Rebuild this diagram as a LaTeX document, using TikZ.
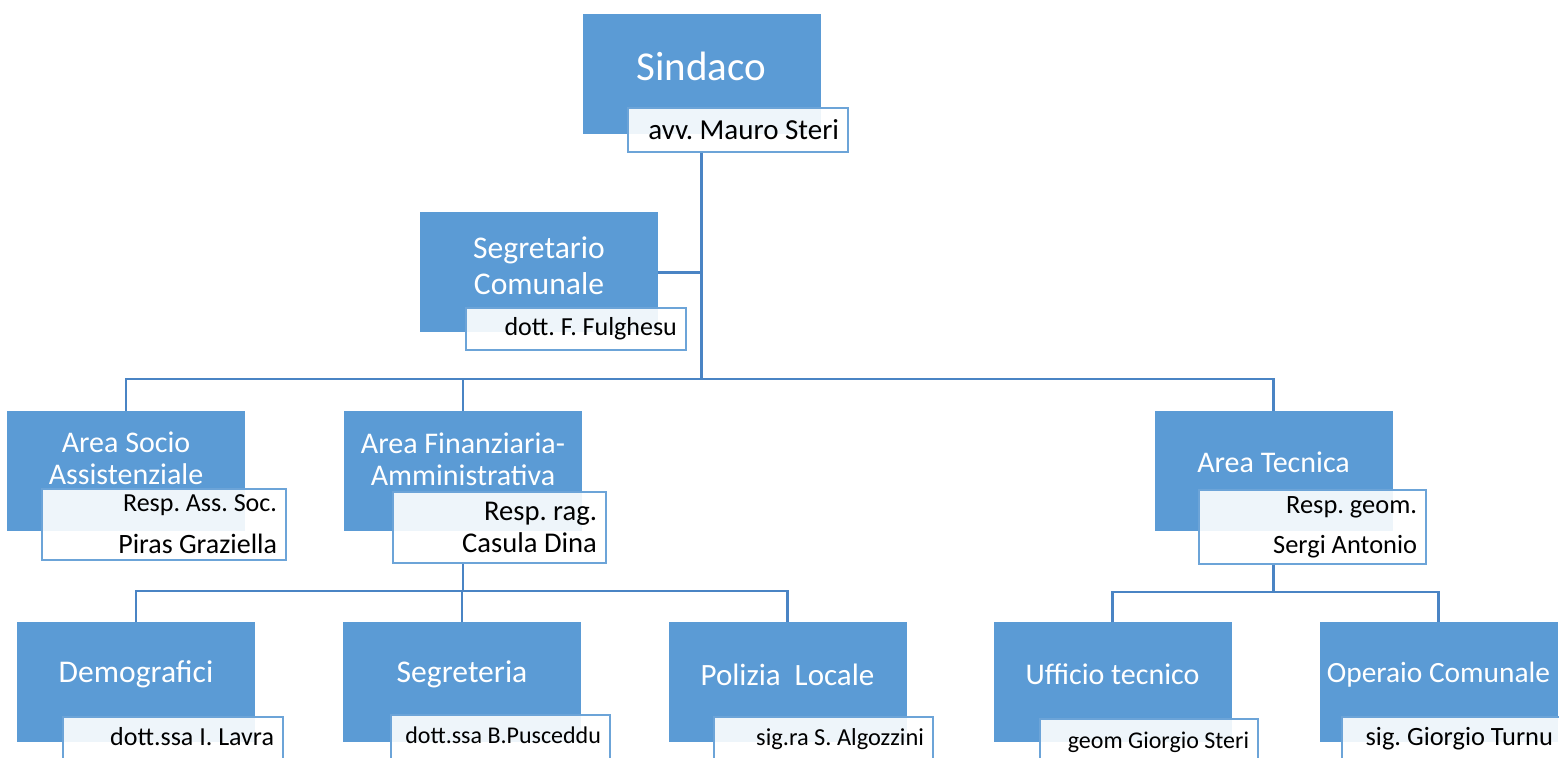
\documentclass[tikz,border=0pt]{standalone}
\usepackage{fontspec}
\setmainfont{Carlito}
\frenchspacing
\definecolor{areablue}{HTML}{5B9BD5}
\definecolor{lineblue}{HTML}{4A84C4}
\definecolor{edgeblue}{HTML}{6CA4D8}

\begin{document}
\begin{tikzpicture}[x=0.5pt, y=-0.5pt,
    ufficio/.style={fill=areablue, minimum width=119pt, minimum height=60pt, inner sep=0pt},
    utesto/.style={text=white, align=center, yshift=4pt, font=\fontsize{15}{16}\selectfont},
    grande/.style={font=\fontsize{15.8}{18}\selectfont},
    nome/.style 2 args={draw=edgeblue, line width=1pt, fill=white, fill opacity=0.9, text opacity=1,
      inner xsep=4.5pt, inner ysep=0pt, text width=#1, minimum height=#2, align=flush right},
    basso/.style={text height=9pt, text depth=9pt},
    filo/.style={draw=lineblue, line width=1.4pt}]
  \useasboundingbox (0,0) rectangle (1559,758);
  \clip (0,0) rectangle (1559,758);

  % vertice
  \node[ufficio, label={[utesto, font=\fontsize{20.5}{24}\selectfont]center:Sindaco}] (sind) at (701.5,74) {};
  \node[nome={101pt}{22pt}, font=\fontsize{14.5}{17}\selectfont] (sindlbl) at (738,130) {avv. Mauro Steri};

  \node[ufficio, label={[utesto, grande, yshift=-0.5pt]center:{Segretario\\Comunale}}] (seg) at (539,272.5) {};
  \node[nome={101pt}{21pt}, font=\fontsize{13}{15}\selectfont] (seglbl) at (576,329) {dott. F. Fulghesu};

  % aree
  \node[ufficio, label={[utesto, yshift=2.5pt]center:{Area Socio\\Assistenziale}}] (socio) at (126,471) {};
  \node[nome={113pt}{35.5pt}, font=\fontsize{14}{21}\selectfont] (sociolbl) at (164,524.5)
    {{\fontsize{13}{21}\selectfont Resp. Ass. Soc.}\\Piras Graziella};

  \node[ufficio, label={[utesto, yshift=2pt]center:{Area Finanziaria-\\Amministrativa}}] (fin) at (463,471) {};
  \node[nome={97.5pt}{35.5pt}, font=\fontsize{14.3}{16}\selectfont] (finlbl) at (499.5,527.5)
    {Resp. rag.\\Casula Dina};

  \node[ufficio, label={[utesto, yshift=0.5pt]center:Area Tecnica}] (tec) at (1273.5,471) {};
  \node[nome={104.5pt}{37pt}, font=\fontsize{13.2}{20}\selectfont] (teclbl) at (1312.5,527)
    {Resp. geom.\\Sergi Antonio};

  % servizi
  \node[ufficio, label={[utesto, grande]center:Demografici}] (demo) at (136,682.5) {};
  \node[nome={101pt}{29pt}, basso, font=\fontsize{13}{15}\selectfont] (demolbl) at (173,746) {dott.ssa I. Lavra};

  \node[ufficio, label={[utesto, grande]center:Segreteria}] (segr) at (462,682.5) {};
  \node[nome={100.5pt}{29pt}, basso, font=\fontsize{12}{14}\selectfont] (segrlbl) at (500.5,744) {dott.ssa B.Pusceddu};

  \node[ufficio, label={[utesto, font=\fontsize{15.5}{18}\selectfont]center:Polizia~~Locale}] (pol) at (787.5,682.5) {};
  \node[nome={100.5pt}{29pt}, basso, font=\fontsize{12.2}{14}\selectfont] (pollbl) at (823.5,746) {sig.ra S. Algozzini};

  \node[ufficio, label={[utesto]center:Ufficio tecnico}] (uff) at (1112.5,682.5) {};
  \node[nome={100pt}{29pt}, basso, font=\fontsize{12}{14}\selectfont] (ufflbl) at (1149,748) {geom Giorgio Steri};

  \node[ufficio, label={[utesto, font=\fontsize{14.7}{17}\selectfont]center:Operaio Comunale}] (ope) at (1438.5,682.5) {};
  \node[nome={101pt}{29pt}, basso, font=\fontsize{13.2}{15}\selectfont] (opelbl) at (1452,746) {sig. Giorgio Turnu};

  % collegamenti
  \coordinate (hub) at (701.5,379);
  \coordinate (hubf) at (463,591);
  \coordinate (hubt) at (1273.5,592);
  \draw[filo] (sindlbl.south -| hub) -- (hub);
  \draw[filo] (seg.east) -- (seg.east -| hub);
  \draw[filo] (socio.north) |- (hub) -| (tec.north);
  \draw[filo] (fin.north) -- (fin.north |- hub);
  \draw[filo] (finlbl.south -| hubf) -- (hubf);
  \draw[filo] (demo.north) |- (hubf) -| (pol.north);
  \draw[filo] (segr.north) -- (segr.north |- hubf);
  \draw[filo] (teclbl.south -| hubt) -- (hubt);
  \draw[filo] (uff.north) |- (hubt) -| (ope.north);
\end{tikzpicture}
\end{document}
